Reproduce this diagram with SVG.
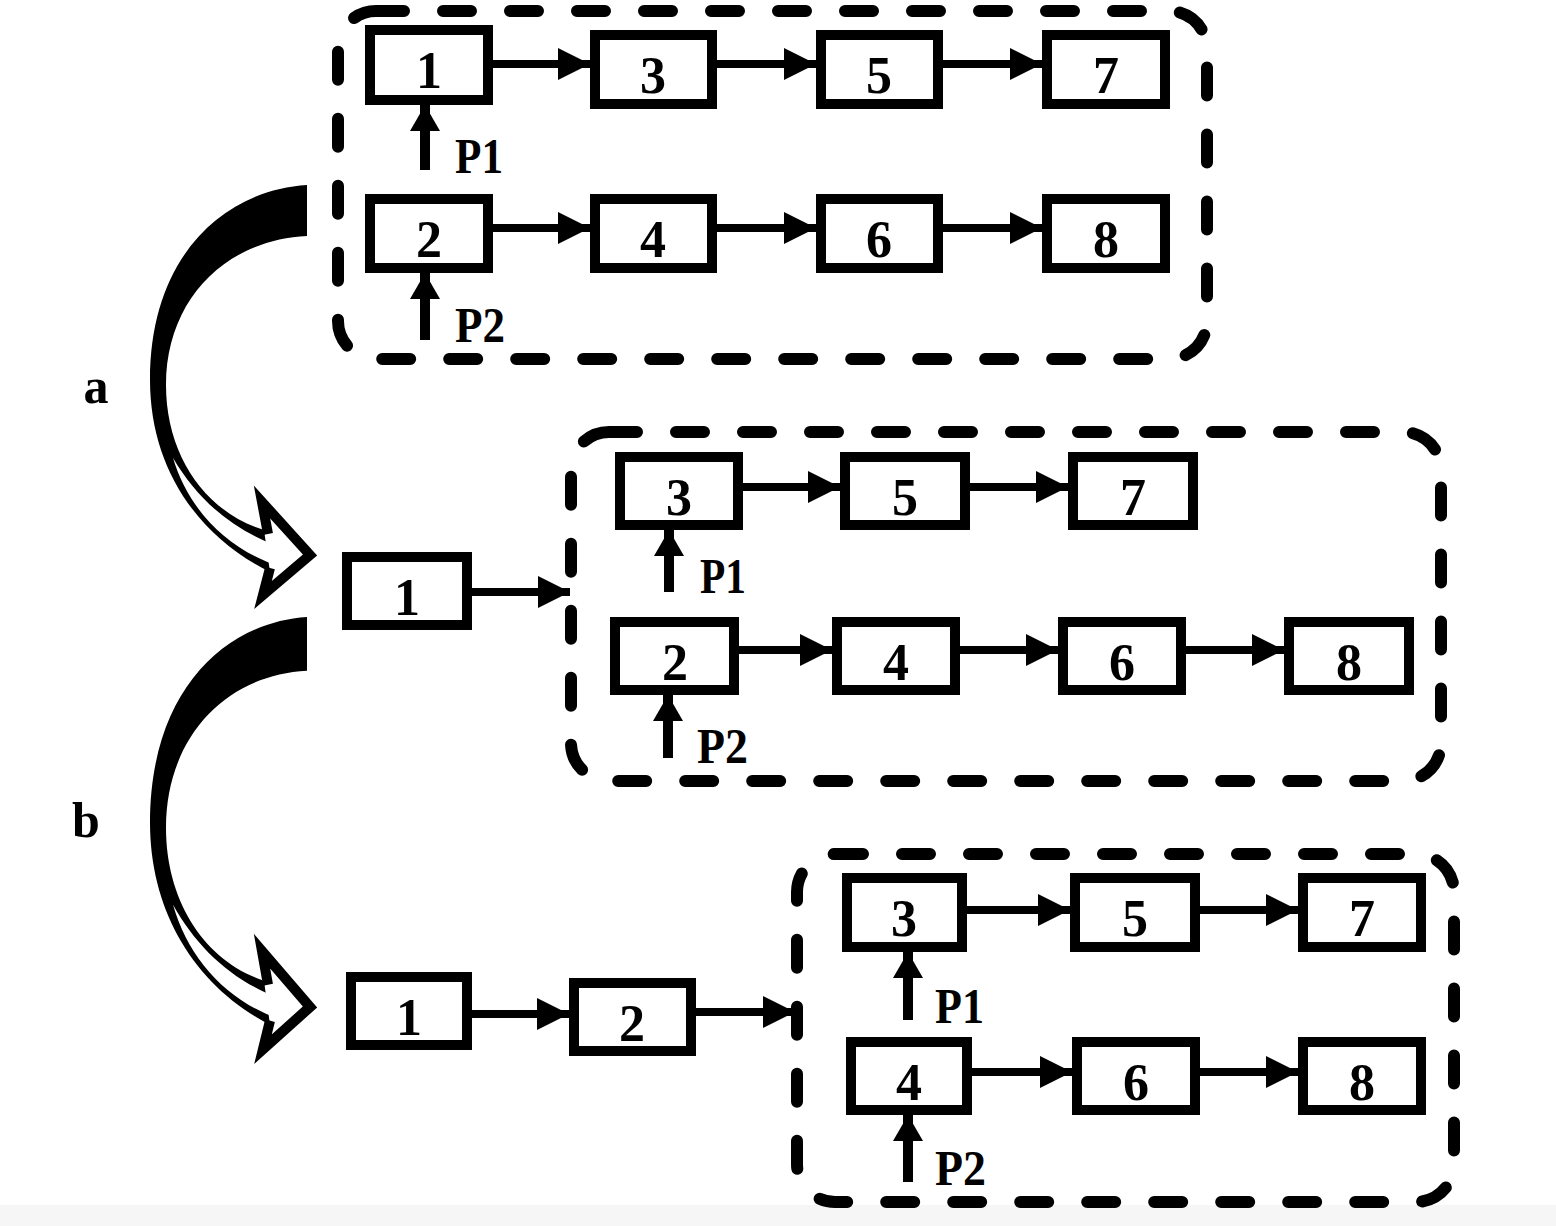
<svg xmlns="http://www.w3.org/2000/svg" width="1556" height="1226" viewBox="0 0 1556 1226">
<defs>
<style>
.box{fill:#fff;stroke:#000;stroke-width:10}
.grp{fill:none;stroke:#000;stroke-width:12;stroke-dasharray:28 39;stroke-linecap:round}
.num{font-family:"Liberation Serif","Times New Roman",serif;font-weight:bold;font-size:52px;text-anchor:middle;fill:#000}
.lbl{font-family:"Liberation Serif","Times New Roman",serif;font-weight:bold;font-size:50px;fill:#000}
.h{stroke:#000;stroke-width:8;fill:none;marker-end:url(#ah)}
.v{stroke:#000;stroke-width:10;fill:none;marker-end:url(#av)}
</style>
<marker id="ah" markerUnits="userSpaceOnUse" markerWidth="32" markerHeight="32" refX="32" refY="16" orient="auto"><path d="M0,0 L32,16 L0,32 z" fill="#000"/></marker>
<marker id="av" markerUnits="userSpaceOnUse" markerWidth="28" markerHeight="32" refX="26" refY="16" orient="auto"><path d="M0,1 L26,16 L0,31 z" fill="#000"/></marker>
<g id="curved">
<path d="M307,185 C225,190 150,255 150,380 C150,465 195,535 270,572 L264,530 C205,512 166,455 166,385 C166,300 225,240 307,236 Z" fill="#000"/>
<path d="M173,458 C188,508 225,548 278,566 L282,548 C232,530 198,500 173,458 Z" fill="#fff"/>
<path d="M268,534 L262,502 L310,555 L263,595 L270,568" fill="#fff" stroke="#000" stroke-width="10" stroke-linejoin="miter"/>
</g>
</defs>
<rect x="0" y="0" width="1556" height="1226" fill="#fff"/>
<rect x="0" y="1205" width="1556" height="21" fill="#f6f6f6"/>

<g id="transitions">
<use href="#curved"/>
<use href="#curved" transform="translate(0,617) scale(1,1.054) translate(0,-185)"/>
<text class="lbl" x="96" y="403" text-anchor="middle">a</text>
<text class="lbl" x="86" y="837" text-anchor="middle">b</text>
</g>

<g id="group1">
<rect class="grp" x="338" y="11" width="869" height="348" rx="38"/>
</g>
<g id="group2">
<rect class="grp" x="571" y="432" width="870" height="349" rx="38"/>
</g>
<g id="group3">
<rect class="grp" x="797" y="854" width="657" height="348" rx="38"/>
</g>

<g id="connectors">
<line class="h" x1="493" y1="64" x2="590" y2="64"/>
<line class="h" x1="717" y1="64" x2="816" y2="64"/>
<line class="h" x1="943" y1="64" x2="1042" y2="64"/>
<line class="h" x1="493" y1="228" x2="590" y2="228"/>
<line class="h" x1="717" y1="228" x2="816" y2="228"/>
<line class="h" x1="943" y1="228" x2="1042" y2="228"/>
<line class="v" x1="425" y1="170" x2="425" y2="105"/>
<line class="v" x1="425" y1="340" x2="425" y2="273"/>

<line class="h" x1="472" y1="592" x2="570" y2="592"/>
<line class="h" x1="743" y1="487" x2="840" y2="487"/>
<line class="h" x1="970" y1="487" x2="1068" y2="487"/>
<line class="h" x1="739" y1="650" x2="832" y2="650"/>
<line class="h" x1="960" y1="650" x2="1058" y2="650"/>
<line class="h" x1="1186" y1="650" x2="1284" y2="650"/>
<line class="v" x1="669" y1="592" x2="669" y2="530"/>
<line class="v" x1="668" y1="758" x2="668" y2="695"/>

<line class="h" x1="472" y1="1014" x2="569" y2="1014"/>
<line class="h" x1="696" y1="1012" x2="795" y2="1012"/>
<line class="h" x1="967" y1="910" x2="1070" y2="910"/>
<line class="h" x1="1200" y1="910" x2="1298" y2="910"/>
<line class="h" x1="972" y1="1072" x2="1072" y2="1072"/>
<line class="h" x1="1200" y1="1072" x2="1298" y2="1072"/>
<line class="v" x1="908" y1="1020" x2="908" y2="952"/>
<line class="v" x1="908" y1="1182" x2="908" y2="1115"/>
</g>

<g id="labels">
<text class="lbl" x="455" y="173" textLength="48" lengthAdjust="spacingAndGlyphs">P1</text>
<text class="lbl" x="455" y="342" textLength="50" lengthAdjust="spacingAndGlyphs">P2</text>
<text class="lbl" x="700" y="593" textLength="46" lengthAdjust="spacingAndGlyphs">P1</text>
<text class="lbl" x="697" y="763" textLength="51" lengthAdjust="spacingAndGlyphs">P2</text>
<text class="lbl" x="935" y="1023" textLength="49" lengthAdjust="spacingAndGlyphs">P1</text>
<text class="lbl" x="935" y="1185" textLength="51" lengthAdjust="spacingAndGlyphs">P2</text>
</g>

<g id="g1-n1"><rect class="box" x="370" y="30" width="118" height="70"/><text class="num" x="429" y="88">1</text></g>
<g id="g1-n3"><rect class="box" x="595" y="35" width="117" height="69"/><text class="num" x="653" y="93">3</text></g>
<g id="g1-n5"><rect class="box" x="821" y="35" width="117" height="69"/><text class="num" x="879" y="93">5</text></g>
<g id="g1-n7"><rect class="box" x="1047" y="35" width="118" height="69"/><text class="num" x="1106" y="93">7</text></g>
<g id="g1-n2"><rect class="box" x="370" y="199" width="118" height="69"/><text class="num" x="429" y="257">2</text></g>
<g id="g1-n4"><rect class="box" x="595" y="199" width="117" height="69"/><text class="num" x="653" y="257">4</text></g>
<g id="g1-n6"><rect class="box" x="821" y="199" width="117" height="69"/><text class="num" x="879" y="257">6</text></g>
<g id="g1-n8"><rect class="box" x="1047" y="199" width="118" height="69"/><text class="num" x="1106" y="257">8</text></g>

<g id="g2-n1"><rect class="box" x="347" y="557" width="120" height="68"/><text class="num" x="407" y="615">1</text></g>
<g id="g2-n3"><rect class="box" x="620" y="457" width="118" height="68"/><text class="num" x="679" y="515">3</text></g>
<g id="g2-n5"><rect class="box" x="845" y="457" width="120" height="68"/><text class="num" x="905" y="515">5</text></g>
<g id="g2-n7"><rect class="box" x="1073" y="457" width="120" height="68"/><text class="num" x="1133" y="515">7</text></g>
<g id="g2-n2"><rect class="box" x="615" y="622" width="119" height="68"/><text class="num" x="675" y="680">2</text></g>
<g id="g2-n4"><rect class="box" x="837" y="622" width="118" height="68"/><text class="num" x="896" y="680">4</text></g>
<g id="g2-n6"><rect class="box" x="1063" y="622" width="118" height="68"/><text class="num" x="1122" y="680">6</text></g>
<g id="g2-n8"><rect class="box" x="1289" y="622" width="120" height="68"/><text class="num" x="1349" y="680">8</text></g>

<g id="g3-n1"><rect class="box" x="351" y="977" width="116" height="68"/><text class="num" x="409" y="1035">1</text></g>
<g id="g3-n2"><rect class="box" x="574" y="983" width="117" height="68"/><text class="num" x="632" y="1041">2</text></g>
<g id="g3-n3"><rect class="box" x="847" y="878" width="115" height="69"/><text class="num" x="904" y="936">3</text></g>
<g id="g3-n5"><rect class="box" x="1075" y="878" width="120" height="69"/><text class="num" x="1135" y="936">5</text></g>
<g id="g3-n7"><rect class="box" x="1303" y="878" width="118" height="69"/><text class="num" x="1362" y="936">7</text></g>
<g id="g3-n4"><rect class="box" x="851" y="1042" width="116" height="68"/><text class="num" x="909" y="1100">4</text></g>
<g id="g3-n6"><rect class="box" x="1077" y="1042" width="118" height="68"/><text class="num" x="1136" y="1100">6</text></g>
<g id="g3-n8"><rect class="box" x="1303" y="1042" width="118" height="68"/><text class="num" x="1362" y="1100">8</text></g>
</svg>
